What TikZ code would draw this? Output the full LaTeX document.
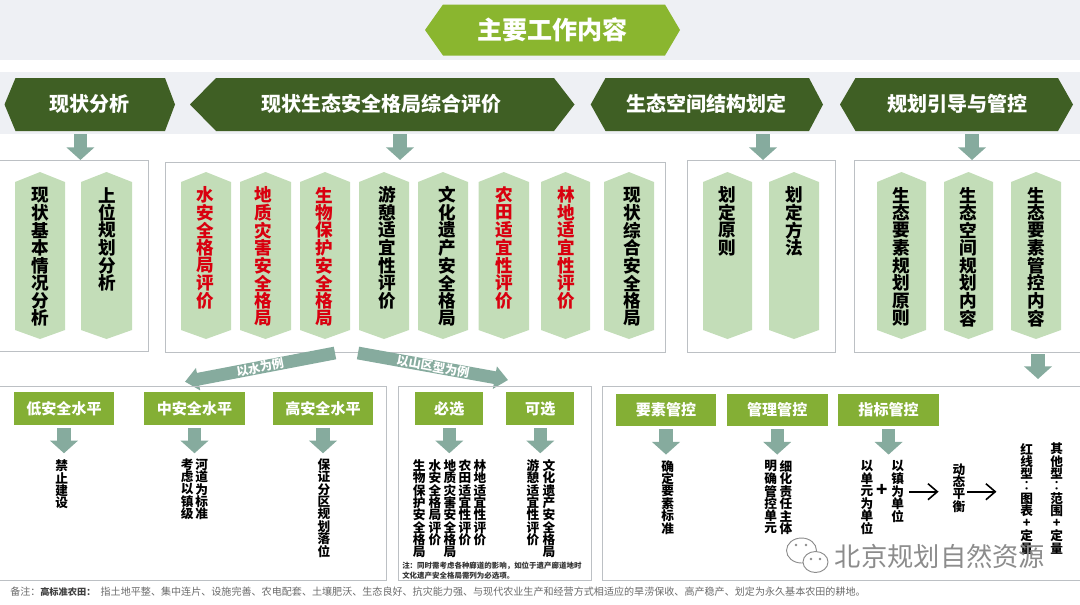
\documentclass[tikz,border=0pt]{standalone}
\usepackage{fontspec}
\setmainfont{Noto Sans CJK SC}
\usetikzlibrary{arrows.meta,positioning}
\definecolor{bandgray}{HTML}{EEF0F4}
\definecolor{topgreen}{HTML}{8AB62F}
\definecolor{darkgreen}{HTML}{3F5F24}
\definecolor{palegreen}{HTML}{C3DDB8}
\definecolor{boxgreen}{HTML}{84AF35}
\definecolor{arrowgreen}{HTML}{86AB9E}
\definecolor{framegray}{HTML}{BCC0C4}
\definecolor{redtxt}{HTML}{D9000F}
\definecolor{notegray}{HTML}{6A6A6A}
\definecolor{markgray}{HTML}{8C8C8C}
% vertical text, one character under the other
\def\vloop#1{\ifx#1\relax\else\vbox to \vstep{\vss\hbox to \vstep{\hss#1\hss}\vss}\expandafter\vloop\fi}
\def\vtxt#1#2{\vbox{\offinterlineskip\def\vstep{#1}\edef\vtmp{#2}\expandafter\vloop\vtmp\relax}}
% header hexagon: left tip, left shoulder, right shoulder, right tip, top, bottom
\def\hexbar#1(#2,#3,#4,#5)(#6,#7){\fill[#1] (#2,{(#6+#7)/2}) -- (#3,#6) -- (#4,#6) -- (#5,{(#6+#7)/2}) -- (#4,#7) -- (#3,#7) -- cycle;}
\tikzset{
	headtxt/.style={text=white,font=\fontsize{15}{17}\selectfont\bfseries,inner sep=0pt},
	frame/.style={draw=framegray,line width=0.7pt},
	gbox/.style={fill=boxgreen,text=white,font=\fontsize{11.3}{13}\selectfont\bfseries,minimum width=75.5pt,minimum height=24.5pt,inner sep=0pt},
	blk/.style={draw=arrowgreen,line width=10pt,-{Triangle[length=9.5pt,width=20.5pt]}},
	slant/.style={draw=arrowgreen,line width=9.6pt,-{Triangle[length=10pt,width=16.5pt]}},
	slanttxt/.style={text=white,font=\fontsize{9}{10}\selectfont\bfseries,inner sep=0pt,sloped,midway},
	coltxt/.style={font=\fontsize{13.2}{15}\selectfont\bfseries,inner sep=0pt,anchor=north},
	subtxt/.style={font=\fontsize{9.5}{10}\selectfont\bfseries,inner sep=0pt,anchor=north},
	thinarr/.style={draw=black,line width=1.2pt,-{Straight Barb[length=7pt,width=12pt]}},
	notetxt/.style={text=notegray,font=\fontsize{7.55}{9}\selectfont,inner sep=0pt},
}
\begin{document}
\begin{tikzpicture}[x=0.75pt,y=-0.75pt]
	\useasboundingbox (0,0) rectangle (1080,604);
	%%%%% bands and headers %%%%%
	\fill[bandgray] (0,0) rectangle (1080,60);
	\fill[bandgray] (0,72) rectangle (1080,134);
	\hexbar{topgreen}(425,443,665,680)(4.5,55.5);
	\node[headtxt,font=\fontsize{18.8}{21}\selectfont\bfseries] (title) at (552.5,30) {主要工作内容};
	\hexbar{darkgreen}(4.5,15.5,165,175)(78,131);
	\hexbar{darkgreen}(190,216,554,574.5)(78,131);
	\hexbar{darkgreen}(590.7,605.5,809,823)(78,131);
	\hexbar{darkgreen}(840,855.5,1058,1073)(78,131);
	\node[headtxt] (status) at (89,104) {现状分析};
	\node[headtxt] (pattern) at (381.5,104) {现状生态安全格局综合评价};
	\node[headtxt] (space) at (706,104) {生态空间结构划定};
	\node[headtxt] (guide) at (957,104) {规划引导与管控};

	%%%%% upper frames %%%%%
	\draw[frame] (-1,160) rectangle (148,351);
	\draw[frame] (165,162) rectangle (665,352);
	\draw[frame] (687.6,160) rectangle (835,352);
	\draw[frame] (854.5,160) rectangle (1082,352);
	\coordinate (a1) at (80.4,134);
	\coordinate (a2) at (400,134);
	\coordinate (a3) at (763,134);
	\coordinate (a4) at (972,134);
	\foreach \n in {a1,a2,a3,a4}
		\draw[blk] (\n) -- ++(0,26);

	%%%%% columns %%%%%
	\foreach \n/\xl/\xr/\xt/\c/\t in {
		c1/15/65/40/black/现状基本情况分析,
		c2/81/132/107/black/上位规划分析,
		c3/181/231/205.4/redtxt/水安全格局评价,
		c4/240/291/263.5/redtxt/地质灾害安全格局,
		c5/300/350/324/redtxt/生物保护安全格局,
		c6/359/409/387/black/游憩适宜性评价,
		c7/418/468/447/black/文化遗产安全格局,
		c8/478.5/529/504/redtxt/农田适宜性评价,
		c9/541/590/566/redtxt/林地适宜性评价,
		c10/604/654/632.6/black/现状综合安全格局,
		c11/703/752/727.5/black/划定原则,
		c12/769/819/794/black/划定方法,
		c13/877/926/901.5/black/生态要素规划原则,
		c14/944/993/968.5/black/生态空间规划内容,
		c15/1011/1061/1036/black/生态要素管控内容}
	{
		\fill[palegreen] ({(\xl+\xr)/2},172) -- (\xr,182) -- (\xr,330) -- ({(\xl+\xr)/2},339) -- (\xl,330) -- (\xl,182) -- cycle;
		\node[coltxt,text=\c] (\n) at (\xt,186) {\vtxt{13.2pt}{\t}};
	}
	\coordinate (a5) at (1038,354);
	\draw[blk] (a5) -- ++(0,25);

	%%%%% slanted arrows %%%%%
	\coordinate (sl) at (335,353);
	\coordinate (sltip) at (185,381.7);
	\coordinate (sr) at (358,353);
	\coordinate (srtip) at (508,380);
	\draw[slant] (sl) -- node[slanttxt] (water) {以水为例} (sltip);
	\draw[slant] (sr) -- node[slanttxt,font=\fontsize{9.2}{10}\selectfont\bfseries] (hill) {以山区型为例} (srtip);

	%%%%% lower frames %%%%%
	\draw[frame] (-1,386) rectangle (386,580.7);
	\draw[frame] (398.7,386) rectangle (591.7,580.7);
	\draw[frame] (602.7,386) rectangle (1082,580.7);

	\node[gbox] (low) at (64,408.7) {低安全水平};
	\node[gbox] (mid) at (194.5,408.7) {中安全水平};
	\node[gbox] (high) at (323,408.7) {高安全水平};
	\node[gbox,minimum width=51pt] (must) at (449.3,408.7) {必选};
	\node[gbox,minimum width=51pt] (may) at (540.3,408.7) {可选};
	\node[gbox] (elem) at (666,410) {要素管控};
	\node[gbox] (mgmt) at (777.2,410) {管理管控};
	\node[gbox] (index) at (888.6,410) {指标管控};
	\foreach \n in {low,mid,high,must,may,elem,mgmt,index}
		\draw[blk] ([yshift=-2pt]\n.south) -- ++(0,25.3);

	%%%%% texts under the green boxes %%%%%
	\foreach \n/\x/\y/\t in {
		t1/61.7/459/禁止建设,
		t2/201.7/458/河道为标准,
		t3/187.3/458/考虑以镇级,
		t4/324/458/保证分区规划落位,
		t5/419.3/459/生物保护安全格局,
		t6/435/459/水安全格局评价,
		t7/450/459/地质灾害安全格局,
		t8/465/459/农田适宜性评价,
		t9/480/459/林地适宜性评价,
		t10/533/459/游憩适宜性评价,
		t11/549/459/文化遗产安全格局,
		t12/667.7/460/确定要素标准,
		t13/786/460/细化责任主体,
		t14/770.7/460/明确管控单元,
		t15/897.7/460/以镇为单位,
		t16/867/460/以单元为单位,
		t17/959/463/动态平衡,
		t18/1026.7/442.7/红线型︰图表+定量,
		t19/1056.7/442.7/其他型︰范围+定量}
		\node[subtxt] (\n) at (\x,\y) {\vtxt{9.3pt}{\t}};
	\node[font=\fontsize{14}{15}\selectfont\bfseries,inner sep=0pt] (plus) at (882,490) {+};
	\draw[thinarr,shorten >=10.5pt] (t15.east |- 0,491.7) ++(5,0) -- (t17.west |- 0,491.7);
	\draw[thinarr] (t17.east |- 0,491.7) ++(2,0) -- ++(29,0);
	\node[font=\fontsize{5.6}{7.6}\selectfont\bfseries,align=left,inner sep=0pt,text=black!80,anchor=north west] (hint) at (402,562) {注：同时需考虑各种廊道的影响，如位于遗产廊道地时\\文化遗产安全格局需列为必选项。};

	%%%%% footnote %%%%%
	\node[notetxt,anchor=west] (noteb) at (10,592) {备注：};
	\node[notetxt,anchor=west,text=black!75,font=\fontsize{6.9}{9}\selectfont\bfseries] (notea) at (40,592) {高标准农田：};
	\node[notetxt,right=3.5pt of notea.east,anchor=west] (notec) {指土地平整、集中连片、设施完善、农电配套、土壤肥沃、生态良好、抗灾能力强、与现代农业生产和经营方式相适应的旱涝保收、高产稳产、划定为永久基本农田的耕地。};

	%%%%% watermark %%%%%
	\draw[markgray,fill=white,line width=0.7pt] (801.5,550.5) ellipse (15 and 12.5);
	\draw[markgray,fill=white,line width=0.7pt] (815.5,562) ellipse (12.5 and 10.5);
	\foreach \x/\y in {796/545,806/545,811/559,820/559}
		\fill[markgray] (\x,\y) circle (1.3);
	\node[text=markgray,font=\fontsize{19.7}{21}\selectfont,inner sep=0pt] (mark) at (940,556) {北京规划自然资源};
\end{tikzpicture}
\end{document}
